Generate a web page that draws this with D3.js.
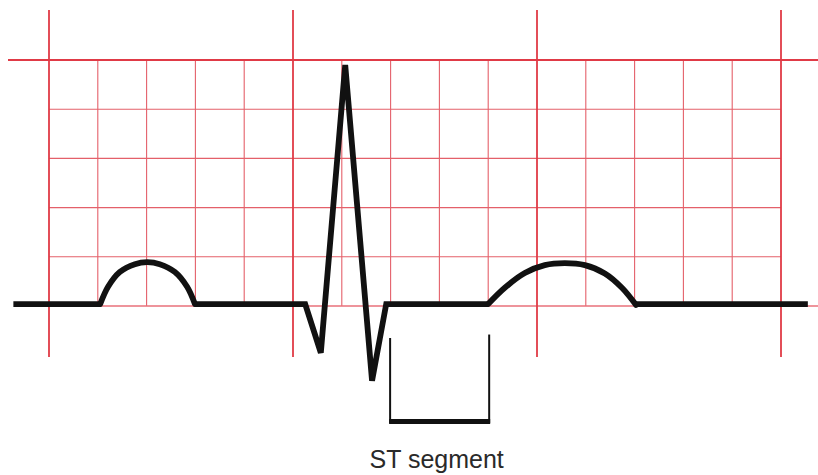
<!DOCTYPE html>
<html>
<head>
<meta charset="utf-8">
<script src="https://cdn.jsdelivr.net/npm/d3@7"></script>
<style>
  body { margin: 0; background: #fff; }
  svg { display: block; }
</style>
</head>
<body>
<svg width="818" height="475"></svg>
<script>
// grid is in "box" units: 15 boxes across, 5 boxes up from the baseline
var boxCols = d3.range(0, 16)          // vertical grid lines
var boxRows = d3.range(0, 6)           // horizontal grid lines
var majorCols = [0, 5, 10, 15]

// trace pieces, [box x, box y]
var flatAndQRS = [
  [[-0.73, 0.04], [1.05, 0.04]],
  [[2.99, 0.04], [5.25, 0.04], [5.57, -0.95], [6.07, 4.9], [6.62, -1.52], [6.91, 0.04], [9.0, 0.04]],
  [[12.03, 0.04], [15.55, 0.04]]
]
var pWave = [[1.05, 0.04], [1.21, 0.39], [1.45, 0.69], [1.76, 0.85], [2.01, 0.89], [2.27, 0.85], [2.58, 0.69], [2.83, 0.39], [2.99, 0.04]]
var tWave = [[9.0, 0.04], [9.34, 0.37], [9.75, 0.67], [10.16, 0.83], [10.57, 0.87], [10.98, 0.83], [11.39, 0.66], [11.74, 0.37], [12.03, 0.02]]

// ST segment bracket
var stStart = 6.99, stEnd = 9.02
var stTop = [-0.65, -0.58], stBottom = -2.38
var stLabel = "ST segment"

var svg = d3.select("svg")
var x = d3.scaleLinear().domain([0, 15]).range([49, 781])
var y = d3.scaleLinear().domain([0, 5]).range([306, 60])

var grid = svg.append("g")
// minor verticals
grid.selectAll("line.minorV")
  .data(boxCols.filter(d => majorCols.indexOf(d) < 0))
  .enter().append("line")
  .attr("x1", d => x(d)).attr("x2", d => x(d))
  .attr("y1", y(5)).attr("y2", y(0))
  .style("stroke", "#e4606a").style("stroke-width", 1.1)
// inner horizontals
grid.selectAll("line.minorH")
  .data(boxRows.filter(d => d > 0 && d < 5))
  .enter().append("line")
  .attr("x1", x(0)).attr("x2", x(15))
  .attr("y1", d => y(d)).attr("y2", d => y(d))
  .style("stroke", "#e4606a").style("stroke-width", 1.1)
// baseline + top line run past the grid
grid.selectAll("line.longH")
  .data([0, 5])
  .enter().append("line")
  .attr("x1", d => d == 5 ? 8 : x(0)).attr("x2", 818)
  .attr("y1", d => y(d)).attr("y2", d => y(d))
  .style("stroke", d => d == 5 ? "#e03a46" : "#e8707a")
  .style("stroke-width", d => d == 5 ? 2 : 1.3)
// major verticals
grid.selectAll("line.majorV")
  .data(majorCols)
  .enter().append("line")
  .attr("x1", d => x(d)).attr("x2", d => x(d))
  .attr("y1", 10).attr("y2", 357)
  .style("stroke", "#e03a46").style("stroke-width", 1.8)

var straight = d3.line().x(d => x(d[0])).y(d => y(d[1]))
var smooth = d3.line().x(d => x(d[0])).y(d => y(d[1])).curve(d3.curveCatmullRom)

var trace = svg.append("g")
  .style("fill", "none").style("stroke", "#111")
  .style("stroke-width", 5.8).style("stroke-linejoin", "miter")
trace.selectAll("path.flat")
  .data(flatAndQRS)
  .enter().append("path")
  .attr("d", straight)
trace.selectAll("path.wave")
  .data([pWave, tWave])
  .enter().append("path")
  .attr("d", smooth)
  .style("stroke-linecap", "round")

// bracket
var br = svg.append("g").style("stroke", "#111").style("fill", "none")
br.append("line")
  .attr("x1", x(stStart)).attr("x2", x(stStart))
  .attr("y1", y(stTop[0])).attr("y2", y(stBottom))
  .style("stroke-width", 2)
br.append("line")
  .attr("x1", x(stEnd)).attr("x2", x(stEnd))
  .attr("y1", y(stTop[1])).attr("y2", y(stBottom))
  .style("stroke-width", 2)
br.append("line")
  .attr("x1", x(stStart) - 1).attr("x2", x(stEnd) + 1)
  .attr("y1", y(stBottom) - 1.5).attr("y2", y(stBottom) - 1.5)
  .style("stroke-width", 5)

svg.append("text")
  .attr("x", (x(stStart) + x(stEnd)) / 2 - 3)
  .attr("y", 468)
  .attr("text-anchor", "middle")
  .style("font-family", "'Liberation Sans', Arial, sans-serif")
  .style("font-size", "25px")
  .style("fill", "#2a2a2a")
  .text(stLabel)
</script>
</body>
</html>
